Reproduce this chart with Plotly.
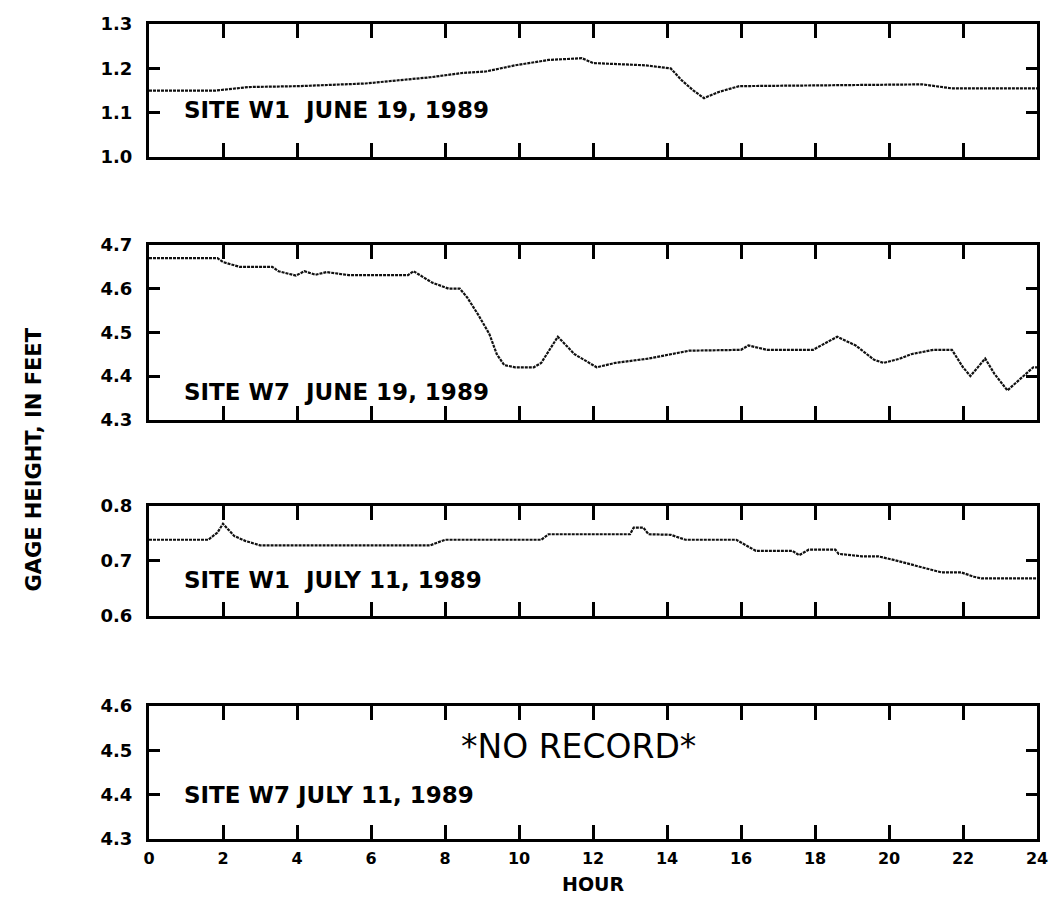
import plotly.graph_objects as go
from plotly.subplots import make_subplots

# ---- data ----
hours_w1_jun = [0, 1.8, 2.7, 4.05, 5.85, 7.6, 8.5, 9.1, 9.9, 10.8, 11.7, 12.0, 13.4, 14.1,
                14.4, 14.7, 15.0, 15.4, 15.95, 18.0, 20.9, 21.7, 24.0]
gage_w1_jun = [1.150, 1.150, 1.158, 1.160, 1.166, 1.180, 1.190, 1.193, 1.207, 1.219, 1.223,
               1.212, 1.207, 1.200, 1.173, 1.151, 1.133, 1.147, 1.160, 1.162, 1.164, 1.155, 1.155]

hours_w7_jun = [0, 1.85, 2.0, 2.45, 3.33, 3.5, 3.97, 4.2, 4.5, 4.8, 5.4, 7.0, 7.15, 7.65, 8.1,
                8.4, 8.6, 8.9, 9.2, 9.4, 9.6, 9.9, 10.4, 10.6, 11.05, 11.5, 12.1, 12.6, 13.5,
                14.6, 16.0, 16.2, 16.7, 17.95, 18.6, 19.1, 19.6, 19.85, 20.3, 20.6, 21.2, 21.7,
                22.0, 22.2, 22.6, 22.85, 23.2, 23.55, 23.9, 24.0]
gage_w7_jun = [4.670, 4.670, 4.661, 4.650, 4.650, 4.640, 4.630, 4.640, 4.632, 4.638, 4.631,
               4.631, 4.640, 4.614, 4.600, 4.600, 4.580, 4.540, 4.496, 4.450, 4.425, 4.420,
               4.420, 4.430, 4.490, 4.450, 4.420, 4.430, 4.440, 4.458, 4.460, 4.470, 4.460,
               4.460, 4.490, 4.470, 4.437, 4.430, 4.440, 4.450, 4.460, 4.460, 4.420, 4.400,
               4.440, 4.405, 4.367, 4.394, 4.420, 4.420]

hours_w1_jul = [0, 1.6, 1.85, 2.0, 2.3, 2.6, 3.0, 7.6, 8.0, 10.6, 10.8, 13.0, 13.1, 13.36, 13.5,
                14.1, 14.5, 15.87, 16.4, 17.39, 17.57, 17.83, 18.55, 18.64, 19.27, 19.71,
                20.16, 20.6, 21.06, 21.41, 21.95, 22.3, 22.5, 24.0]
gage_w1_jul = [0.738, 0.738, 0.751, 0.767, 0.745, 0.736, 0.728, 0.728, 0.738, 0.738, 0.748,
               0.748, 0.760, 0.760, 0.748, 0.747, 0.738, 0.738, 0.718, 0.718, 0.710, 0.720,
               0.720, 0.7125, 0.708, 0.708, 0.701, 0.693, 0.686, 0.679, 0.679, 0.671, 0.668,
               0.668]

hours_w7_jul = []   # no record
gage_w7_jul = []

panel_labels = ["SITE W1  JUNE 19, 1989", "SITE W7  JUNE 19, 1989",
                "SITE W1  JULY 11, 1989", "SITE W7 JULY 11, 1989"]
y_ranges = [[1.0, 1.3], [4.3, 4.7], [0.6, 0.8], [4.3, 4.6]]
x_ticks = list(range(0, 25, 2))

series = [(hours_w1_jun, gage_w1_jun), (hours_w7_jun, gage_w7_jun),
          (hours_w1_jul, gage_w1_jul), (hours_w7_jul, gage_w7_jul)]

# ---- figure ----
fig = make_subplots(rows=4, cols=1)
for i, (hx, gy) in enumerate(series, start=1):
    fig.add_trace(go.Scatter(x=hx, y=gy, mode="lines",
                             line=dict(color="#111", width=2.2, dash="3px,1px"),
                             showlegend=False), row=i, col=1)

domains = [[0.8366, 1.0], [0.5145, 0.7288], [0.2736, 0.4092], [0.0, 0.1634]]
FONT = "DejaVu Sans"
for i in range(4):
    xa = "xaxis" if i == 0 else f"xaxis{i+1}"
    ya = "yaxis" if i == 0 else f"yaxis{i+1}"
    fig.layout[xa].update(
        range=[0, 24], domain=[0, 1], tickvals=x_ticks, ticks="inside", ticklen=14,
        tickwidth=2.5, tickcolor="#000", showline=True, linewidth=3, linecolor="#000",
        mirror="ticks", showgrid=False, zeroline=False,
        showticklabels=(i == 3), ticklabelstandoff=3, ticklabeloverflow="allow",
        tickfont=dict(family=FONT, size=16, color="#000", weight="bold"))
    fig.layout[ya].update(
        range=y_ranges[i], domain=domains[i], dtick=0.1, tickformat=".1f",
        ticks="inside", ticklen=11, tickwidth=2.5, tickcolor="#000",
        showline=True, linewidth=3, linecolor="#000", mirror="ticks",
        showgrid=False, zeroline=False, ticklabelstandoff=10,
        tickfont=dict(family=FONT, size=18, color="#000", weight="bold"))

label_pos = [(0.9, 1.107), (0.9, 4.364), (0.9, 0.665), (0.9, 4.40)]
for i, (txt, (ax, ay)) in enumerate(zip(panel_labels, label_pos), start=1):
    xr = "x" if i == 1 else f"x{i}"
    yr = "y" if i == 1 else f"y{i}"
    fig.add_annotation(x=ax, y=ay, xref=xr, yref=yr, text=txt, showarrow=False,
                       xanchor="left", yanchor="middle",
                       font=dict(family=FONT, size=23, color="#000", weight="bold"))

fig.add_annotation(x=11.6, y=4.509, xref="x4", yref="y4", text="*NO RECORD*",
                   showarrow=False, xanchor="center", yanchor="middle",
                   font=dict(family=FONT, size=33, color="#000"))

fig.add_annotation(x=0.5, y=-0.0555, xref="paper", yref="paper", text="HOUR",
                   showarrow=False, xanchor="center", yanchor="middle",
                   font=dict(family=FONT, size=19, color="#000", weight="bold"))
fig.add_annotation(x=-0.13, y=0.465, xref="paper", yref="paper",
                   text="GAGE HEIGHT, IN FEET", textangle=-90, showarrow=False,
                   xanchor="center", yanchor="middle",
                   font=dict(family=FONT, size=21, color="#000", weight="bold"))

# page body has an 8px margin, so the figure is sized to fit inside the window
fig.update_layout(width=1045, height=891, paper_bgcolor="white", plot_bgcolor="white",
                  margin=dict(l=141, r=12, t=5, b=60))

fig.write_html("out.html")
